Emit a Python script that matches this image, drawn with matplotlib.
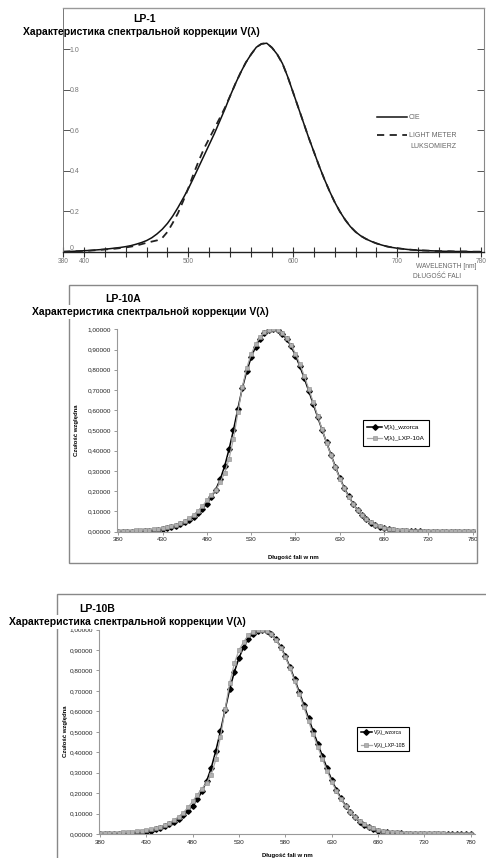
import matplotlib
matplotlib.use("Agg")
import matplotlib.pyplot as plt
from matplotlib.patches import Rectangle

plt.rcParams['font.family'] = ['Liberation Sans', 'DejaVu Sans']

W, H = 486, 858

# ---------------- data ----------------
# Top chart (LP-1), 5 nm steps
lam_top = list(range(380, 781, 5))
cie_top = [0.000, 0.001, 0.002, 0.003, 0.005, 0.006, 0.008, 0.010, 0.012, 0.015,
           0.018, 0.021, 0.025, 0.030, 0.037, 0.045, 0.055, 0.069, 0.088, 0.111,
           0.140, 0.176, 0.218, 0.264, 0.312, 0.365, 0.420, 0.475, 0.530, 0.585,
           0.645, 0.705, 0.770, 0.830, 0.885, 0.935, 0.975, 1.010, 1.027, 1.030,
           1.008, 0.975, 0.930, 0.865, 0.790, 0.715, 0.640, 0.565, 0.495, 0.425,
           0.360, 0.300, 0.245, 0.198, 0.158, 0.124, 0.098, 0.078, 0.063, 0.051,
           0.041, 0.033, 0.026, 0.021, 0.017, 0.014, 0.011, 0.009, 0.007, 0.006,
           0.005, 0.004, 0.003, 0.002, 0.002, 0.001, 0.001, 0.001, 0.000, 0.000,
           0.000]
meter_top = [0.000, 0.001, 0.002, 0.003, 0.004, 0.005, 0.007, 0.009, 0.011, 0.013,
             0.015, 0.018, 0.021, 0.025, 0.030, 0.037, 0.044, 0.050, 0.056, 0.068,
             0.098, 0.142, 0.190, 0.250, 0.315, 0.385, 0.450, 0.510, 0.560, 0.610,
             0.660, 0.712, 0.770, 0.830, 0.885, 0.935, 0.975, 1.010, 1.027, 1.030,
             1.008, 0.975, 0.930, 0.865, 0.790, 0.715, 0.640, 0.565, 0.495, 0.425,
             0.360, 0.300, 0.245, 0.198, 0.158, 0.124, 0.098, 0.078, 0.063, 0.051,
             0.041, 0.033, 0.026, 0.021, 0.017, 0.014, 0.011, 0.009, 0.007, 0.006,
             0.005, 0.004, 0.003, 0.002, 0.002, 0.001, 0.001, 0.001, 0.000, 0.000,
             0.000]

# Lower charts, 5 nm steps
lam = list(range(380, 781, 5))
v_wzorca = [0.000039, 0.000064, 0.00012, 0.000217, 0.000396, 0.00064, 0.00121, 0.00218,
            0.004, 0.0073, 0.0116, 0.01684, 0.023, 0.0298, 0.038, 0.048, 0.06, 0.0739,
            0.09098, 0.1126, 0.13902, 0.1693, 0.20802, 0.2586, 0.323, 0.4073, 0.503,
            0.6082, 0.71, 0.7932, 0.862, 0.91485, 0.954, 0.9803, 0.99495, 1.0, 0.995,
            0.9786, 0.952, 0.9154, 0.87, 0.8163, 0.757, 0.6949, 0.631, 0.5668, 0.503,
            0.4412, 0.381, 0.321, 0.265, 0.217, 0.175, 0.1382, 0.107, 0.0816, 0.061,
            0.04458, 0.032, 0.0232, 0.017, 0.01192, 0.00821, 0.005723, 0.004102,
            0.002929, 0.002091, 0.001484, 0.001047, 0.00074, 0.00052, 0.000361,
            0.000249, 0.000172, 0.00012, 0.0000848, 0.00006, 0.0000424, 0.00003,
            0.0000212, 0.0000149]
v_lxp10a = [0.003, 0.004, 0.004, 0.005, 0.006, 0.007, 0.008, 0.010, 0.012, 0.014,
            0.017, 0.021, 0.027, 0.034, 0.043, 0.054, 0.067, 0.083, 0.102, 0.126,
            0.155, 0.183, 0.205, 0.245, 0.290, 0.360, 0.460, 0.590, 0.715, 0.810,
            0.878, 0.925, 0.962, 0.985, 0.997, 1.000, 0.997, 0.982, 0.957, 0.922,
            0.880, 0.828, 0.768, 0.705, 0.640, 0.573, 0.505, 0.440, 0.378, 0.318,
            0.262, 0.214, 0.172, 0.136, 0.106, 0.082, 0.062, 0.047, 0.035, 0.026,
            0.020, 0.015, 0.011, 0.009, 0.007, 0.006, 0.005, 0.004, 0.004, 0.003,
            0.003, 0.003, 0.002, 0.002, 0.002, 0.002, 0.002, 0.001, 0.001, 0.001,
            0.001]
v_lxp10b = [0.003, 0.004, 0.005, 0.006, 0.007, 0.008, 0.010, 0.012, 0.014, 0.016,
            0.019, 0.023, 0.029, 0.036, 0.045, 0.056, 0.069, 0.085, 0.105, 0.130,
            0.160, 0.192, 0.222, 0.250, 0.290, 0.365, 0.475, 0.610, 0.740, 0.835,
            0.900, 0.940, 0.972, 0.990, 0.999, 1.000, 0.993, 0.977, 0.950, 0.912,
            0.866, 0.811, 0.750, 0.686, 0.620, 0.553, 0.488, 0.426, 0.367, 0.309,
            0.256, 0.210, 0.170, 0.136, 0.106, 0.082, 0.063, 0.048, 0.036, 0.027,
            0.021, 0.016, 0.012, 0.010, 0.008, 0.007, 0.006, 0.005, 0.005, 0.004,
            0.004, 0.003, 0.003, 0.003, 0.003, 0.002, 0.002, 0.002, 0.002, 0.002,
            0.002]

top_xticks = list(range(380, 781, 20))
top_xlabels = {380: '380', 400: '400', 500: '500', 600: '600', 700: '700', 780: '780'}
top_yticks = [0, 0.2, 0.4, 0.6, 0.8, 1.0]
top_ylabels = ['0', '0.2', '0.4', '0.6', '0.8', '1.0']
low_xticks = list(range(380, 781, 50))
low_yticks = [round(0.1 * i, 1) for i in range(11)]
low_ylabels = [('%.5f' % v).replace('.', ',') for v in low_yticks]

title_sub = 'Характеристика спектральной коррекции V(λ)'


def box(x0, yt, x1, yb):
    return [x0 / W, 1 - yb / H, (x1 - x0) / W, (yb - yt) / H]


def ftxt(x, y, s, **kw):
    return fig.text(x / W, 1 - y / H, s, **kw)


fig = plt.figure(figsize=(W / 100, H / 100), dpi=100)

# ================= Top chart LP-1 =================
ax1 = fig.add_axes(box(63, 8, 484, 251.7))
ax1.plot(lam_top, cie_top, color='#111111', lw=1.1, label='CIE')
ax1.plot(lam_top, meter_top, color='#222222', lw=1.3, dashes=(4, 3), label='LIGHT METER')
ax1.set_xlim(380, 782.9)
ax1.set_ylim(0, 1.204)
ax1.set_xticks(top_xticks)
ax1.set_xticklabels([top_xlabels.get(t, '') for t in top_xticks])
ax1.set_yticks(top_yticks)
ax1.set_yticklabels(top_ylabels)
ax1.tick_params(axis='x', direction='inout', length=7, width=0.8, colors='#333333',
                labelsize=4.8, labelcolor='#777777', pad=1)
ax1.tick_params(axis='y', direction='in', length=5, width=0.7, colors='#555555',
                labelsize=5, labelcolor='#777777', pad=-5, right=True)
for lbl in ax1.get_yticklabels():
    lbl.set_horizontalalignment('left')
ax1.get_yticklabels()[0].set_verticalalignment('bottom')
for side, col, lw in [('left', '#777777', 0.7), ('bottom', '#222222', 1.0),
                      ('top', '#999999', 1.0), ('right', '#888888', 0.8)]:
    ax1.spines[side].set_color(col)
    ax1.spines[side].set_linewidth(lw)
leg1 = ax1.legend(loc='upper left', bbox_to_anchor=(0.745, 0.565), frameon=False,
                  fontsize=5, handlelength=4.3, handletextpad=0.3, labelspacing=1.6,
                  borderpad=0, borderaxespad=0)
for t in leg1.get_texts():
    t.set_color('#666666')
ftxt(410, 146, 'LUKSOMIERZ', fontsize=5, color='#666666', ha='left', va='center')
ftxt(416, 267, 'WAVELENGTH [nm]', fontsize=4.8, color='#666666', ha='left', va='center')
ftxt(413, 276, 'DŁUGOŚĆ FALI', fontsize=4.8, color='#666666', ha='left', va='center')
ftxt(145, 19, 'LP-1', fontsize=7.5, fontweight='bold', ha='center', va='center')
ftxt(141, 32, title_sub, fontsize=7.5, fontweight='bold', ha='center', va='center')


def lower_chart(frame, axbox, xlim, series_label, gray_vals, title, title_xy, sub_xy,
                ylab_xy, xlab_xy, leg_anchor, leg_fs, leg_sp):
    fx0, fy0, fx1, fy1 = frame
    fig.patches.append(Rectangle((fx0 / W, 1 - fy1 / H), (fx1 - fx0) / W, (fy1 - fy0) / H,
                                 transform=fig.transFigure, fill=False,
                                 edgecolor='#888888', lw=1.0, zorder=0))
    ax = fig.add_axes(box(*axbox))
    ax.plot(lam, v_wzorca, color='black', lw=1.1, marker='D', markersize=2.8,
            markerfacecolor='black', markeredgecolor='black', label='V(λ)_wzorca')
    ax.plot(lam, gray_vals, color='#a8a8a8', lw=0.9, marker='s', markersize=2.5,
            markerfacecolor='#b0b0b0', markeredgecolor='#8c8c8c', markeredgewidth=0.4,
            label=series_label)
    ax.set_xlim(*xlim)
    ax.set_ylim(0, 1.0)
    ax.set_xticks(low_xticks)
    ax.set_xticklabels([str(t) for t in low_xticks])
    ax.set_yticks(low_yticks)
    ax.set_yticklabels(low_ylabels)
    ax.tick_params(axis='both', direction='out', length=2, width=0.6, colors='#888888',
                   labelsize=4.6, labelcolor='#222222', pad=2)
    for side in ['top', 'right']:
        ax.spines[side].set_visible(False)
    for side in ['left', 'bottom']:
        ax.spines[side].set_color('#999999')
        ax.spines[side].set_linewidth(0.8)
    leg = ax.legend(loc='upper left', bbox_to_anchor=leg_anchor, fontsize=leg_fs,
                    fancybox=False, edgecolor='black', framealpha=1,
                    handlelength=2.2, handletextpad=0.4, borderpad=0.7,
                    labelspacing=leg_sp, borderaxespad=0)
    leg.get_frame().set_linewidth(0.8)
    ftxt(*ylab_xy, 'Czułość względna', fontsize=4.3, fontweight='bold', rotation=90,
         ha='center', va='center')
    ftxt(*xlab_xy, 'Długość fali w nm', fontsize=4.3, fontweight='bold',
         ha='center', va='center')
    ftxt(*title_xy, title, fontsize=7.5, fontweight='bold', ha='center', va='center')
    ftxt(*sub_xy, title_sub, fontsize=7.5, fontweight='bold', ha='center', va='center',
         bbox=dict(facecolor='white', edgecolor='none', pad=1.6), zorder=10)
    return ax


# ================= Middle chart LP-10A =================
lower_chart(frame=(69.3, 285, 477, 563), axbox=(116.7, 329.3, 475, 531.7),
            xlim=(378.2, 782.6), series_label='V(λ)_LXP-10A', gray_vals=v_lxp10a,
            title='LP-10A', title_xy=(123, 299), sub_xy=(150, 312),
            ylab_xy=(76, 430), xlab_xy=(293, 557.5),
            leg_anchor=((363 - 116.7) / 358.3, (531.7 - 420) / 202.4), leg_fs=4.6,
            leg_sp=0.9)

# ================= Bottom chart LP-10B =================
lower_chart(frame=(57.3, 594, 492, 870), axbox=(98.5, 629.6, 475, 834),
            xlim=(378.4, 784.6), series_label='V(λ)_LXP-10B', gray_vals=v_lxp10b,
            title='LP-10B', title_xy=(97, 609), sub_xy=(127, 621.7),
            ylab_xy=(65.7, 731.7), xlab_xy=(287, 855),
            leg_anchor=((357 - 98.5) / 376.5, (834 - 726.7) / 204.4), leg_fs=3.6,
            leg_sp=1.5)

fig.savefig('out.png', dpi=100)
